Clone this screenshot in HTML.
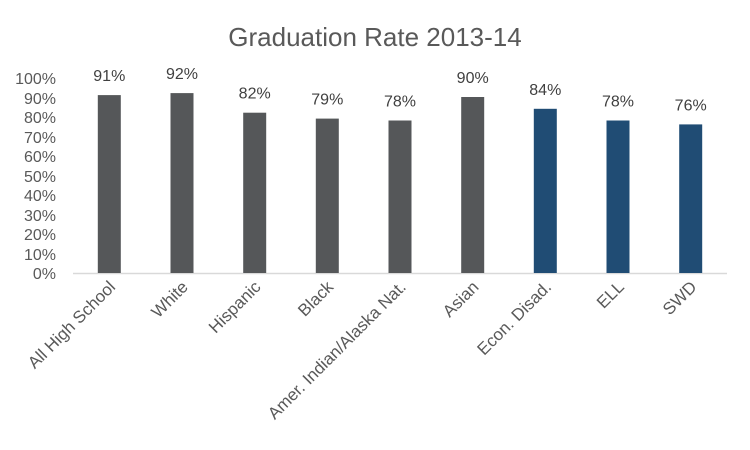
<!DOCTYPE html>
<html><head><style>body{margin:0;background:#fff}svg{display:block}</style></head><body>
<svg width="750" height="450" xmlns="http://www.w3.org/2000/svg" font-family="Liberation Sans, sans-serif">
<rect width="750" height="450" fill="#fff"/>
<text x="375" y="46" text-anchor="middle" font-size="26" fill="#595959">Graduation Rate 2013-14</text>
<g font-size="16" fill="#595959" text-anchor="end">
<text x="56" y="84">100%</text><text x="56" y="104">90%</text><text x="56" y="123">80%</text><text x="56" y="143">70%</text><text x="56" y="162">60%</text><text x="56" y="182">50%</text><text x="56" y="201">40%</text><text x="56" y="221">30%</text><text x="56" y="240">20%</text><text x="56" y="260">10%</text><text x="56" y="279">0%</text>
</g>
<line x1="73" y1="273.5" x2="727" y2="273.5" stroke="#d9d9d9" stroke-width="1.5"/>
<g fill="#555759">
<rect x="97.8" y="95.1" width="23" height="177.9"/>
<rect x="170.5" y="93.1" width="23" height="179.9"/>
<rect x="243.2" y="112.7" width="23" height="160.3"/>
<rect x="315.8" y="118.6" width="23" height="154.4"/>
<rect x="388.5" y="120.5" width="23" height="152.5"/>
<rect x="461.2" y="97" width="23" height="176"/>
</g>
<g fill="#204c74">
<rect x="533.8" y="108.8" width="23" height="164.2"/>
<rect x="606.5" y="120.5" width="23" height="152.5"/>
<rect x="679.2" y="124.4" width="23" height="148.6"/>
</g>
<g font-size="16" fill="#404040" text-anchor="middle">
<text x="109.3" y="81.1">91%</text>
<text x="182" y="79.1">92%</text>
<text x="254.7" y="98.7">82%</text>
<text x="327.3" y="104.6">79%</text>
<text x="400" y="106.5">78%</text>
<text x="472.7" y="83">90%</text>
<text x="545.3" y="94.8">84%</text>
<text x="618" y="106.5">78%</text>
<text x="690.7" y="110.4">76%</text>
</g>
<g font-size="17" fill="#595959" text-anchor="end">
<text transform="translate(116.3,288) rotate(-45)">All High School</text>
<text transform="translate(189,288) rotate(-45)">White</text>
<text transform="translate(261.7,288) rotate(-45)">Hispanic</text>
<text transform="translate(334.3,288) rotate(-45)">Black</text>
<text transform="translate(407,288) rotate(-45)">Amer. Indian/Alaska Nat.</text>
<text transform="translate(479.7,288) rotate(-45)">Asian</text>
<text transform="translate(552.3,288) rotate(-45)">Econ. Disad.</text>
<text transform="translate(625,288) rotate(-45)">ELL</text>
<text transform="translate(697.7,288) rotate(-45)">SWD</text>
</g>
</svg>
</body></html>
